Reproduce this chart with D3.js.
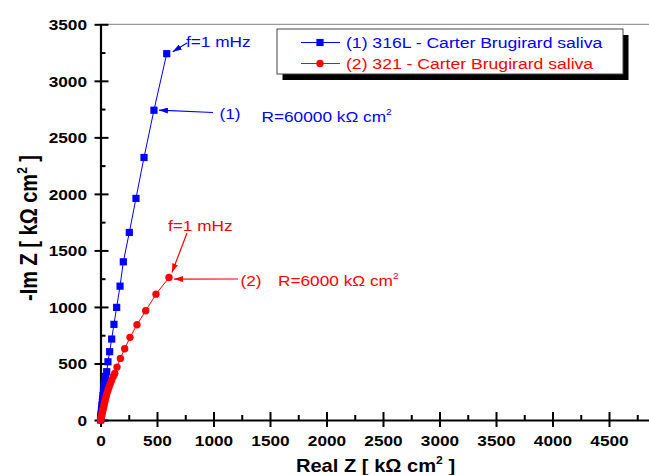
<!DOCTYPE html>
<html>
<head>
<meta charset="utf-8">
<script src="https://cdn.jsdelivr.net/npm/d3@7"></script>
<style>
  body { margin: 0; background: #fff; }
  svg { display: block; }
</style>
</head>
<body>
<div id="chart"></div>
<script>
// series (1) 316L and (2) 321, Nyquist data, kOhm cm2
var realZ1 = [586, 473, 385, 314, 255, 202, 173, 143, 119, 99, 81, 66, 55, 46, 39, 34, 30, 26, 22, 19, 16, 13, 10, 8, 6, 4, 3, 2, 1, 0];
var imZ1   = [3240, 2740, 2322, 1960, 1659, 1399, 1184, 996, 846, 716, 604, 515, 427, 385, 348, 312, 280, 248, 216, 186, 157, 130, 104, 80, 58, 40, 25, 13, 5, 0];
var realZ2 = [606, 491, 400, 323, 261, 214, 176, 146, 126, 113, 98, 86, 76, 67, 59, 52, 45, 39, 34, 29, 24, 20, 16, 12, 9, 6, 3, 1, 0];
var imZ2   = [1260, 1113, 966, 843, 731, 630, 545, 468, 412, 385, 350, 320, 292, 266, 240, 215, 190, 166, 144, 122, 100, 82, 64, 47, 33, 20, 10, 3, 0];
var seriesNames = ["(1) 316L - Carter Brugirard saliva", "(2) 321 - Carter Brugirard saliva"];
var xTicks = [0, 500, 1000, 1500, 2000, 2500, 3000, 3500, 4000, 4500];
var yTicks = [0, 500, 1000, 1500, 2000, 2500, 3000, 3500];

var W = 649, H = 475;
var SX = 1.15; // the original picture is a bit stretched sideways
var font = "'Liberation Sans', Arial, sans-serif";

var svg = d3.select("#chart").append("svg")
    .attr("width", W)
    .attr("height", H);

var x = d3.scaleLinear().domain([0, 4854]).range([100.5, 649]);
var y = d3.scaleLinear().domain([0, 3500]).range([420, 24.3]);

// arrow heads
var defs = svg.append("defs");
[["blue", "#0000ff"], ["red", "#ff0000"]].forEach(function (c) {
    defs.append("marker")
        .attr("id", "arr-" + c[0])
        .attr("markerUnits", "userSpaceOnUse")
        .attr("markerWidth", 9)
        .attr("markerHeight", 6)
        .attr("refX", 9)
        .attr("refY", 3)
        .attr("orient", "auto")
        .append("path")
        .attr("d", "M0,0 L9,3 L0,6 Z")
        .attr("fill", c[1]);
});

// top frame line
svg.append("line")
    .attr("x1", x(0)).attr("x2", W)
    .attr("y1", y(3500)).attr("y2", y(3500))
    .attr("stroke", "#999")
    .attr("stroke-width", 1.2);

// minor ticks
var xMinor = d3.range(250, 4854, 500);
var yMinor = d3.range(250, 3500, 500);

svg.append("g")
    .attr("transform", "translate(0," + y(0) + ")")
    .call(d3.axisBottom(x).tickValues(xMinor).tickSize(-5).tickFormat(""))
    .call(function (g) { g.select(".domain").remove(); })
    .selectAll("line").attr("stroke-width", 2);

svg.append("g")
    .attr("transform", "translate(" + x(0) + ",0)")
    .call(d3.axisLeft(y).tickValues(yMinor).tickSize(-5).tickFormat(""))
    .call(function (g) { g.select(".domain").remove(); })
    .selectAll("line").attr("stroke-width", 2);

// X axis
var xAxis = svg.append("g")
    .attr("transform", "translate(0," + y(0) + ")")
    .call(d3.axisBottom(x).tickValues(xTicks).tickSizeOuter(0).tickFormat(d3.format("d")));
xAxis.select(".domain").attr("stroke-width", 2.2);
xAxis.selectAll(".tick line").attr("y1", -8).attr("y2", 7).attr("stroke-width", 2);
xAxis.selectAll(".tick text")
    .attr("y", 15)
    .attr("dy", "0.71em")
    .attr("transform", "scale(" + SX + ",1)")
    .style("font-family", font)
    .style("font-weight", "bold")
    .style("font-size", "15px")
    .attr("fill", "#000");

// Y axis
var yAxis = svg.append("g")
    .attr("transform", "translate(" + x(0) + ",0)")
    .call(d3.axisLeft(y).tickValues(yTicks).tickSizeOuter(0).tickFormat(d3.format("d")));
yAxis.select(".domain").attr("stroke-width", 2.2);
yAxis.selectAll(".tick line").attr("x1", -6).attr("x2", 8).attr("stroke-width", 2);
yAxis.selectAll(".tick text")
    .attr("x", -13.5 / SX)
    .attr("dy", "0.36em")
    .attr("transform", "scale(" + SX + ",1)")
    .style("font-family", font)
    .style("font-weight", "bold")
    .style("font-size", "15px")
    .attr("fill", "#000");

// text helper (stretched like the original)
function label(txt, px, py, color, size, anchor, weight, sup) {
    var t = svg.append("text")
        .attr("transform", "translate(" + px + "," + py + ") scale(" + SX + ",1)")
        .attr("text-anchor", anchor || "start")
        .style("font-family", font)
        .style("font-size", size + "px")
        .style("font-weight", weight || "normal")
        .attr("fill", color);
    if (sup) {
        t.append("tspan").text(txt[0]);
        t.append("tspan").text(txt[1]).attr("dy", -size * 0.45).style("font-size", (size * 0.6) + "px");
        t.append("tspan").text(txt[2] || "").attr("dy", size * 0.45);
    } else {
        t.text(txt);
    }
    return t;
}

// axis titles
label(["Real Z [ k\u03A9 cm", "2", " ]"], 375.5, 472, "#000", 17.5, "middle", "bold", true);
var yt = svg.append("text")
    .attr("transform", "translate(37,228) scale(" + SX + ",1) rotate(-90)")
    .attr("text-anchor", "middle")
    .style("font-family", font)
    .style("font-size", "20px")
    .style("font-weight", "bold");
yt.append("tspan").text("-Im Z [ k\u03A9 cm");
yt.append("tspan").text("2").attr("dy", -9).style("font-size", "12px");
yt.append("tspan").text(" ]").attr("dy", 9);

// series
var pts1 = realZ1.map(function (d, i) { return [d, imZ1[i]]; });
var pts2 = realZ2.map(function (d, i) { return [d, imZ2[i]]; });
var line = d3.line().x(function (d) { return x(d[0]); }).y(function (d) { return y(d[1]); });

svg.append("path").datum(pts1)
    .attr("d", line).attr("fill", "none").attr("stroke", "#0000ff").attr("stroke-width", 1);
svg.selectAll(".sq").data(pts1).enter().append("rect")
    .attr("class", "sq")
    .attr("x", function (d) { return x(d[0]) - 3.6; })
    .attr("y", function (d) { return y(d[1]) - 3.6; })
    .attr("width", 7.2).attr("height", 7.2)
    .attr("fill", "#0000ff");

svg.append("path").datum(pts2)
    .attr("d", line).attr("fill", "none").attr("stroke", "#ff0000").attr("stroke-width", 1);
svg.selectAll(".dot").data(pts2).enter().append("circle")
    .attr("class", "dot")
    .attr("cx", function (d) { return x(d[0]); })
    .attr("cy", function (d) { return y(d[1]); })
    .attr("r", 3.7)
    .attr("fill", "#ff0000");

// annotations
function arrow(x1, y1, x2, y2, c) {
    svg.append("line")
        .attr("x1", x1).attr("y1", y1).attr("x2", x2).attr("y2", y2)
        .attr("stroke", c === "blue" ? "#0000ff" : "#ff0000")
        .attr("stroke-width", 1.2)
        .attr("marker-end", "url(#arr-" + c + ")");
}
var p1 = pts1[0], p1b = pts1[1], p2 = pts2[0];
label("f=1 mHz", 186, 46.5, "#0000ff", 15);
arrow(187, 43, x(p1[0]) + 6, y(p1[1]) - 2, "blue");
label("(1)", 219.5, 119, "#0000ff", 15);
arrow(213, 112.5, x(p1b[0]) + 5, y(p1b[1]), "blue");
label(["R=60000 k\u03A9 cm", "2"], 261.5, 122, "#0000ff", 15, "start", "normal", true);

label("f=1 mHz", 168, 231, "#ff0000", 15);
arrow(187, 233, x(p2[0]) + 3, y(p2[1]) - 5, "red");
label("(2)", 240.5, 286, "#ff0000", 15);
arrow(238, 279, x(p2[0]) + 5, y(p2[1]) + 1.5, "red");
label(["R=6000 k\u03A9 cm", "2"], 278, 286, "#ff0000", 15, "start", "normal", true);

// legend
var lg = svg.append("g").attr("transform", "translate(277,29)");
lg.append("rect").attr("x", 5.5).attr("y", 6).attr("width", 346).attr("height", 45).attr("fill", "#000");
lg.append("rect").attr("x", 0).attr("y", 0).attr("width", 346).attr("height", 45)
    .attr("fill", "#fff").attr("stroke", "#444").attr("stroke-width", 1);
var legColors = ["#0000ff", "#ff0000"];
seriesNames.forEach(function (name, i) {
    var ry = 13.5 + i * 21;
    lg.append("line").attr("x1", 24).attr("x2", 63).attr("y1", ry).attr("y2", ry)
        .attr("stroke", legColors[i]).attr("stroke-width", 1.2);
    if (i === 0) {
        lg.append("rect").attr("x", 43 - 3.6).attr("y", ry - 3.6).attr("width", 7.2).attr("height", 7.2)
            .attr("fill", legColors[i]);
    } else {
        lg.append("circle").attr("cx", 43).attr("cy", ry).attr("r", 3.7).attr("fill", legColors[i]);
    }
    lg.append("text")
        .attr("transform", "translate(69," + (ry + 5.5) + ") scale(" + SX + ",1)")
        .style("font-family", font)
        .style("font-size", "15.3px")
        .attr("fill", legColors[i])
        .text(name);
});
</script>
</body>
</html>
